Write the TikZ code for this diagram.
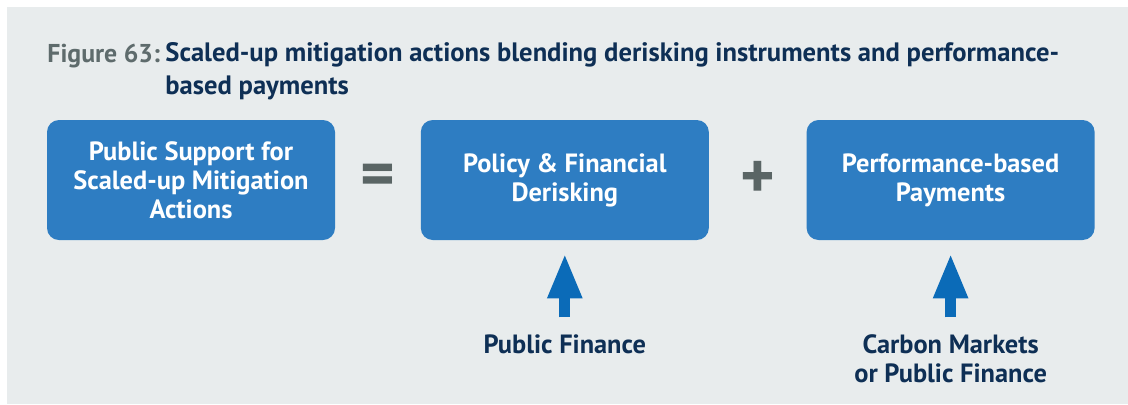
\documentclass[tikz,border=0pt]{standalone}
\usepackage{fontspec}
\setmainfont{PT Sans}
\usepackage{xcolor}
\usepackage{tikz}
\usetikzlibrary{arrows.meta, positioning, calc}

\definecolor{panelgray}{HTML}{E8ECED}
\definecolor{boxblue}{HTML}{2E7DC2}
\definecolor{arrowblue}{HTML}{0B6BB8}
\definecolor{navy}{HTML}{0E2F55}
\definecolor{figgray}{HTML}{5E6B6C}
\definecolor{signgray}{HTML}{5A6565}

\begin{document}
\begin{tikzpicture}[
    x=0.5pt, y=-0.5pt,
    font=\fontsize{13.2}{14.5}\selectfont\bfseries,
    node distance=42.5pt,
    block/.style={
        fill=boxblue,
        rounded corners=6pt,
        minimum width=144pt,
        minimum height=60pt,
        align=center,
        text=white,
        inner sep=0pt
    },
    heading/.style={
        inner sep=0pt,
        align=left,
        font=\fontsize{13.3}{16.2}\selectfont\bfseries
    },
    sign/.style={
        text=signgray,
        font=\fontsize{33}{33}\selectfont\bfseries
    },
    source/.style={
        text=navy,
        align=center,
        inner sep=0pt
    },
    uparrow/.style={
        draw=arrowblue,
        -{Triangle[width=16pt, length=22.5pt]},
        line width=5.5pt
    }
]

\useasboundingbox (0,0) rectangle (1128,404);
\fill[panelgray] (7,7) rectangle (1128,404);

% Title
\node[heading, anchor=base west, text=figgray, font=\fontsize{12.9}{16.2}\selectfont\bfseries] (fignum) at (47,62) {Figure 63:};
\node[heading, anchor=north west, text=navy] (title) at (165,42.5)
    {Scaled-up mitigation actions blending derisking instruments and performance-\\based payments};

% Equation boxes
\node[block] (support) at (191,180) {Public Support for\\Scaled-up Mitigation\\Actions};
\node[block, right=of support] (derisk) {Policy \& Financial\\Derisking};
\node[block, right=48.5pt of derisk] (payments) {Performance-based\\Payments};

\node[sign] (equals) at ($(support.east)!0.5!(derisk.west)$) {=};
\node[sign] (plus) at ($(derisk.east)!0.5!(payments.west)$) {+};

% Sources of finance
\node[source, below=47pt of derisk] (pubfin) {Public Finance};
\node[source, below=47pt of payments] (carbon) {Carbon Markets\\or Public Finance};

\draw[uparrow, shorten <=8.5pt, shorten >=6.5pt] (pubfin.north) -- (pubfin.north |- derisk.south);
\draw[uparrow, shorten <=8.5pt, shorten >=6.5pt] (carbon.north) -- (carbon.north |- payments.south);

\end{tikzpicture}
\end{document}
